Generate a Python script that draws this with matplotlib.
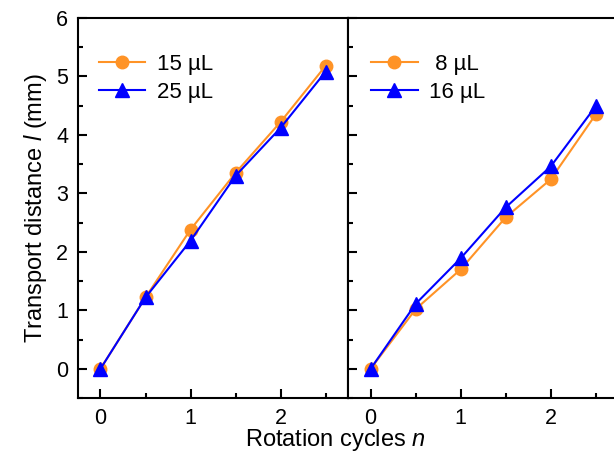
import matplotlib.pyplot as plt
from matplotlib.ticker import MultipleLocator

plt.rcParams["font.family"] = ["Liberation Sans", "DejaVu Sans"]
plt.rcParams["mathtext.fontset"] = "custom"
plt.rcParams["mathtext.it"] = "Liberation Sans:italic"

cycles = [0, 0.5, 1, 1.5, 2, 2.5]
left_15ul = [0, 1.22, 2.38, 3.35, 4.22, 5.18]
left_25ul = [0, 1.22, 2.19, 3.30, 4.12, 5.08]
right_8ul = [0, 1.02, 1.70, 2.59, 3.24, 4.35]
right_16ul = [0, 1.11, 1.89, 2.76, 3.46, 4.49]

orange = "#FF9326"
blue = "#0000FF"

fig = plt.figure(figsize=(6.14, 4.58), dpi=100)
ax_left = fig.add_axes([0.127, 0.131, 0.44, 0.830])
ax_right = fig.add_axes([0.567, 0.131, 0.44, 0.830], sharey=ax_left)

panels = [
    (ax_left, left_15ul, left_25ul, "15 µL", "25 µL", 0.077),
    (ax_right, right_8ul, right_16ul, " 8 µL", "16 µL", 0.085),
]

for ax, orange_values, blue_values, orange_label, blue_label, legend_x in panels:
    ax.plot(cycles, orange_values, color=orange, marker="o", markersize=9,
            linewidth=1.5, label=orange_label)
    ax.plot(cycles, blue_values, color=blue, marker="^", markersize=10,
            linewidth=1.5, label=blue_label)
    ax.set_xlim(-0.25, 2.75)
    ax.set_ylim(-0.5, 6)
    ax.xaxis.set_major_locator(MultipleLocator(1))
    ax.xaxis.set_minor_locator(MultipleLocator(0.5))
    ax.yaxis.set_major_locator(MultipleLocator(1))
    ax.yaxis.set_minor_locator(MultipleLocator(0.5))
    ax.tick_params(which="both", direction="in", width=1.5, labelsize=15.5)
    ax.tick_params(which="major", length=6.5, pad=7)
    ax.tick_params(which="minor", length=3.5)
    for spine in ax.spines.values():
        spine.set_linewidth(1.5)
    ax.legend(loc="upper left", frameon=False, fontsize=16, handlelength=2.1,
              handletextpad=0.5, labelspacing=0.3, borderaxespad=0, borderpad=0,
              bbox_to_anchor=(legend_x, 0.905))

ax_right.tick_params(labelleft=False)
ax_left.set_ylabel("Transport distance $l$ (mm)", fontsize=17, labelpad=5)
fig.text(0.546, 0.01, "Rotation cycles $n$", ha="center", va="bottom", fontsize=17)

fig.savefig("out.png", dpi=100)
